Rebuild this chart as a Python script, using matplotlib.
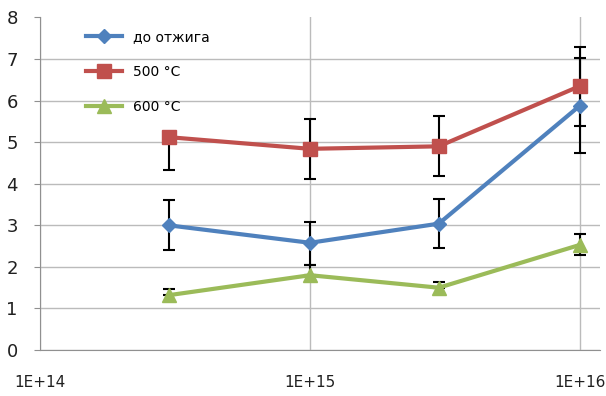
import matplotlib
matplotlib.use("Agg")
import matplotlib.pyplot as plt
import matplotlib.ticker as mticker
import numpy as np

# ── Data ──────────────────────────────────────────────────────────────────────
dose = [3e14, 1e15, 3e15, 1e16]

labels = ["до отжига", "500 °C", "600 °C"]

y_none = [3.0, 2.58, 3.04, 5.88]
lo_none = [0.6, 0.54, 0.58, 1.15]
hi_none = [0.6, 0.50, 0.60, 1.15]

y_500 = [5.12, 4.84, 4.90, 6.35]
lo_500 = [0.78, 0.72, 0.72, 0.96]
hi_500 = [0.0, 0.72, 0.72, 0.94]

y_600 = [1.32, 1.80, 1.50, 2.53]
lo_600 = [0.0, 0.0, 0.0, 0.25]
hi_600 = [0.15, 0.25, 0.14, 0.27]

BLUE = "#4F81BD"
RED = "#C0504D"
GREEN = "#9BBB59"

# ── Plot ──────────────────────────────────────────────────────────────────────
fig = plt.figure(figsize=(6.06, 3.96), dpi=100)
ax = fig.add_axes([0.066, 0.116, 0.924, 0.84])

series = [
    (y_none, lo_none, hi_none, BLUE, "D", 7),
    (y_500, lo_500, hi_500, RED, "s", 10),
    (y_600, lo_600, hi_600, GREEN, "^", 10),
]
for (y, lo, hi, color, marker, ms), lab in zip(series, labels):
    ax.plot(dose, y, color=color, lw=3, marker=marker, ms=ms,
            label=lab, zorder=3)
    ax.errorbar(dose, y, yerr=[lo, hi], fmt="none", ecolor="black",
                elinewidth=1.5, capsize=4, capthick=1.5, zorder=2)

ax.set_xscale("log")
ax.set_xlim(1e14, 1e16 * 10 ** (20 / 270))
ax.set_ylim(0, 8)
ax.set_yticks(range(0, 9))
ax.xaxis.set_major_locator(mticker.FixedLocator([1e14, 1e15, 1e16]))
ax.xaxis.set_minor_locator(mticker.NullLocator())
ax.xaxis.set_major_formatter(mticker.FuncFormatter(
    lambda v, _: f"1E+{int(round(np.log10(v)))}"))

ax.grid(True, color="#BBBBBB", lw=1)
ax.get_ygridlines()[-1].set_visible(False)
ax.set_axisbelow(True)
for s in ["top", "right"]:
    ax.spines[s].set_visible(False)
for s in ["left", "bottom"]:
    ax.spines[s].set_color("#909090")
ax.tick_params(axis="x", length=0, pad=18, labelsize=11, colors="#202020")
ax.tick_params(axis="y", length=4, pad=12, labelsize=13, colors="#202020",
               color="#909090")

ax.legend(loc="upper left", bbox_to_anchor=(0.06, 1.0), frameon=False,
          fontsize=10, labelspacing=1.5, handlelength=2.6)

plt.savefig("out.png", dpi=100)
